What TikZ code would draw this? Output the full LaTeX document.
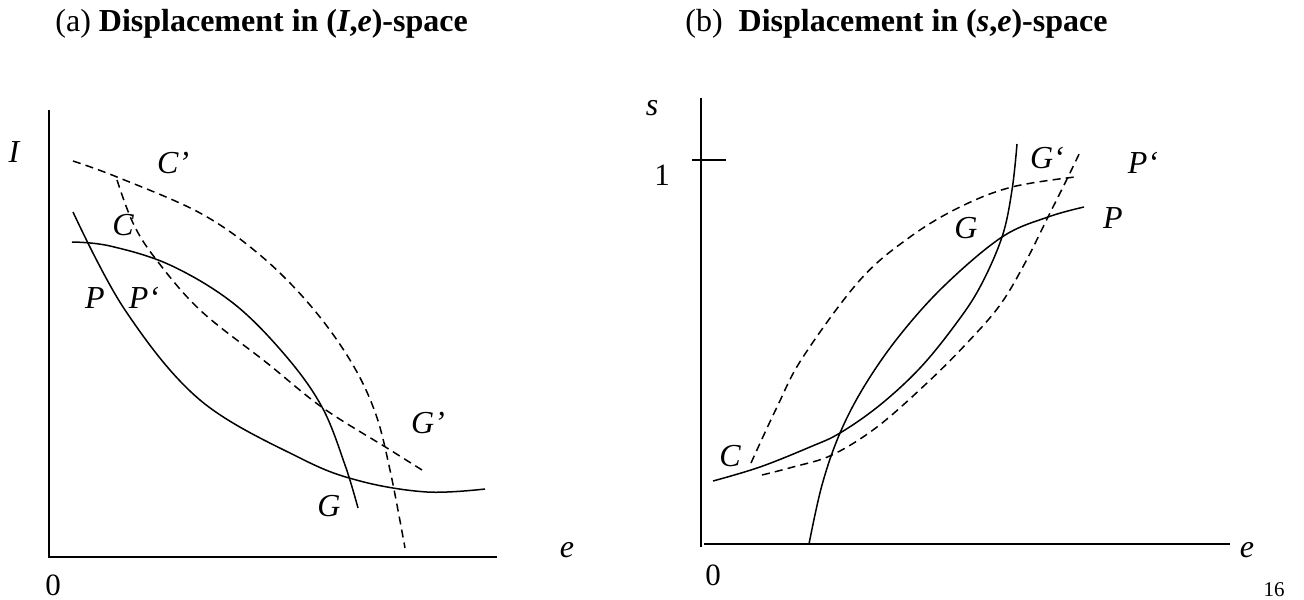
\documentclass[tikz,border=0pt]{standalone}
\usepackage{fontspec}
\setmainfont{Liberation Serif}
\begin{document}
\begin{tikzpicture}[x=0.5pt,y=-0.5pt,
  axis/.style={line width=1pt},
  curve/.style={line width=0.75pt},
  dcurve/.style={line width=0.75pt, dash pattern=on 4pt off 2.6pt},
  lbl/.style={font=\fontsize{16}{19}\selectfont\itshape, inner sep=0pt},
  num/.style={font=\fontsize{15.5}{19}\selectfont, inner sep=0pt},
  ttl/.style={font=\fontsize{16}{19}\selectfont, inner sep=0pt, anchor=base west}]
\useasboundingbox (0,0) rectangle (1304,599);

% titles
\node[ttl] (ta) at (55,32) {(a) \textbf{Displacement in (\textit{I},\textit{e})-space}};
\node[ttl] (tb) at (685,32) {(b)\hspace{0.25em} \textbf{Displacement in (\textit{s},\textit{e})-space}};

% ---------- panel (a) ----------
\coordinate (aY) at (49,110);
\coordinate (aYb) at (49,558);
\coordinate (aXa) at (48.5,557);
\coordinate (aX) at (497,557);
\draw[axis] (aY) -- (aYb);
\draw[axis] (aXa) -- (aX);

% C' dashed
\draw[dcurve] plot[smooth, tension=0.6] coordinates {(73,161) (117,177) (200,213) (260,255) (310,305) (350,360) (375,412) (390,470) (405,548)};
% C dashed
\draw[dcurve] plot[smooth, tension=0.6] coordinates {(117,180) (133,223) (155,258) (200,310) (267,363) (323,408) (387,448) (422,470)};
% solid concave
\draw[curve] plot[smooth, tension=0.6] coordinates {(72,242) (110,246) (170,265) (233,303) (285,355) (322,407) (345,465) (358,508)};
% solid convex
\draw[curve] plot[smooth, tension=0.6] coordinates {(73,212) (125,310) (200,400) (300,458) (360,481) (427,492) (485,489)};

\node[lbl] (aI) at (14,152) {I};
\node[lbl] (aCp) at (173,163) {C’};
\node[lbl] (aC) at (123,225) {C};
\node[lbl] (aP) at (95,298) {P};
\node[lbl] (aPp) at (144,298) {P‘};
\node[lbl] (aGp) at (428,423) {G’};
\node[lbl] (aG) at (329,506) {G};
\node[num] (a0) at (53,585) {0};
\node[lbl] (ae) at (567,550) {e};

% ---------- panel (b) ----------
\coordinate (bY) at (701,98);
\coordinate (bYb) at (701,547);
\coordinate (bXa) at (704,544);
\coordinate (bX) at (1230,544);
\coordinate (bt1) at (692,160);
\coordinate (bt2) at (726,160);
\draw[axis] (bY) -- (bYb);
\draw[axis] (bXa) -- (bX);
\draw[axis] (bt1) -- (bt2);

% G solid (convex)
\draw[curve] plot[smooth, tension=0.6] coordinates {(713,481) (760,467) (810,447) (840,433) (880,405) (920,368) (955,325) (980,287) (1002,237) (1012,190) (1017,144)};
% P solid (concave)
\draw[curve] plot[smooth, tension=0.6] coordinates {(809,544) (822,485) (840,433) (865,385) (900,335) (945,285) (1002,237) (1048,217) (1084,207)};
% P' dashed (concave)
\draw[dcurve] plot[smooth, tension=0.6] coordinates {(751,463) (777,407) (803,357) (860,280) (910,237) (960,207) (1012,187) (1075,177)};
% G' dashed (convex)
\draw[dcurve] plot[smooth, tension=0.6] coordinates {(762,475) (793,467) (832,455) (877,427) (927,383) (967,343) (1000,305) (1025,263) (1048,217) (1068,177) (1081,150)};

\node[lbl] (bs) at (652,108) {s};
\node[num] (b1) at (662,175) {1};
\node[num] (b0) at (713,575) {0};
\node[lbl] (be) at (1247,550) {e};
\node[lbl] (bC) at (730,456) {C};
\node[lbl] (bG) at (966,228) {G};
\node[lbl] (bGp) at (1047,158) {G‘};
\node[lbl] (bPp) at (1143,163) {P‘};
\node[lbl] (bP) at (1113,218) {P};
\node[font=\fontsize{10.5}{12}\selectfont, inner sep=0pt] (pg) at (1274,590) {16};
\end{tikzpicture}
\end{document}
